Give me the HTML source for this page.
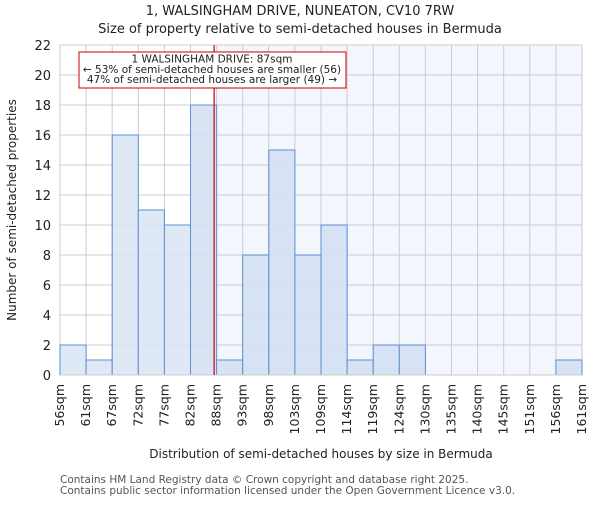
<!DOCTYPE html>
<html><head><meta charset="utf-8"><style>
body{margin:0;background:#fff;}
svg{font-family:"DejaVu Sans","Liberation Sans",sans-serif;}
</style></head><body>
<svg id="chart" width="600" height="500" viewBox="0 0 600 500">
<text x="300" y="15" text-anchor="middle" font-size="13" fill="#222">1, WALSINGHAM DRIVE, NUNEATON, CV10 7RW</text>
<text x="300" y="33" text-anchor="middle" font-size="13" fill="#222">Size of property relative to semi-detached houses in Bermuda</text>
<g id="plot"></g>
<text x="16" y="210" text-anchor="middle" font-size="12" fill="#222" transform="rotate(-90 16 210)">Number of semi-detached properties</text>
<text x="321" y="458" text-anchor="middle" font-size="12" fill="#222">Distribution of semi-detached houses by size in Bermuda</text>
<text x="60" y="483" font-size="10.5" fill="#555">Contains HM Land Registry data © Crown copyright and database right 2025.</text>
<text x="60" y="494" font-size="10.5" fill="#555">Contains public sector information licensed under the Open Government Licence v3.0.</text>
</svg>
<script>
const tickLabels=["56sqm","61sqm","67sqm","72sqm","77sqm","82sqm","88sqm","93sqm","98sqm","103sqm","109sqm","114sqm","119sqm","124sqm","130sqm","135sqm","140sqm","145sqm","151sqm","156sqm","161sqm"];
const counts=[2,1,16,11,10,18,1,8,15,8,10,1,2,2,0,0,0,0,0,1];
const yTicks=[0,2,4,6,8,10,12,14,16,18,20,22];
const minSqm=56, maxSqm=161, propertySqm=87;
const annotationLines=["1 WALSINGHAM DRIVE: 87sqm","← 53% of semi-detached houses are smaller (56)","47% of semi-detached houses are larger (49) →"];

const L=60,R=582,T=45,B=375,yMax=22;
const xs=v=>L+(v-minSqm)/(maxSqm-minSqm)*(R-L);
const ys=v=>B-v/yMax*(B-T);
const binW=(maxSqm-minSqm)/counts.length;
const NS="http://www.w3.org/2000/svg";
const g=document.getElementById('plot');
function mk(t,a){const e=document.createElementNS(NS,t);for(const k in a)e.setAttribute(k,a[k]);g.appendChild(e);return e;}

const px=xs(propertySqm);
let hl=mk('rect',{x:px,y:T,width:R-px,height:B-T,fill:'#f3f6fd'});



yTicks.forEach(v=>{
  let l=mk('line',{x1:L,x2:R,y1:ys(v),y2:ys(v),stroke:'#cccccc','stroke-width':1});
  
  
  let t=mk('text',{x:51,y:ys(v)+5,'text-anchor':'end','font-size':13,fill:'#222'});
  t.textContent=v;
  
  
});
tickLabels.forEach((s,i)=>{
  const x=xs(minSqm+i*binW);
  let l=mk('line',{x1:x,x2:x,y1:T,y2:B,stroke:'#cccccc','stroke-width':1});
  
  
  let t=mk('text',{x:x+4,y:384,'text-anchor':'end','font-size':12.5,fill:'#222',transform:`rotate(-90 ${x+4} 384)`});
  t.textContent=s;
  
  
});
counts.forEach((c,i)=>{
  if(c<=0)return;
  const x0=xs(minSqm+i*binW),x1=xs(minSqm+(i+1)*binW);
  const left=x1<=px+1;
  let r=mk('rect',{x:x0,y:ys(c),width:x1-x0,height:ys(0)-ys(c),fill:left?'#dce6f4':'#d4e0f3','fill-opacity':0.9,stroke:'#5b8fd6','stroke-width':1});
  
  
});
let ax=mk('line',{x1:L,x2:R,y1:B,y2:B,stroke:'#cccccc','stroke-width':1});


let ml=mk('line',{x1:px,x2:px,y1:T,y2:B,stroke:'#cc0000','stroke-width':1.2});


let box=mk('rect',{x:79,y:52,width:267,height:36,fill:'#fff',stroke:'#cc0000','stroke-width':1});


annotationLines.forEach((s,i)=>{
  let t=mk('text',{x:212,y:62.5+i*10.3,'text-anchor':'middle','font-size':10.5,fill:'#222'});
  t.textContent=s;
  
  
});
</script>
</body></html>
